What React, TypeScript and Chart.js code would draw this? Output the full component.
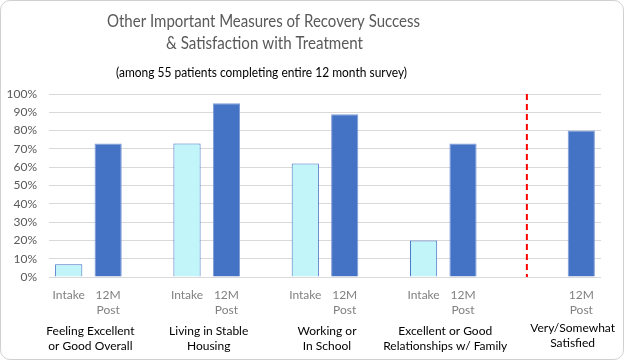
import React, { useEffect, useRef } from 'react';
import { Chart, registerables } from 'chart.js';

Chart.register(...registerables);

const titleLines = ['Other Important Measures of Recovery Success', '& Satisfaction with Treatment'];
const subtitleText = '(among 55 patients completing entire 12 month survey)';

const slotLabels: (string | string[])[] = [
  'Intake', ['12M', 'Post'], '',
  'Intake', ['12M', 'Post'], '',
  'Intake', ['12M', 'Post'], '',
  'Intake', ['12M', 'Post'], '', '',
  ['12M', 'Post'],
];

const intakeSeries = [7, null, null, 73, null, null, 62, null, null, 20, null, null, null, null];
const postSeries = [null, 73, null, null, 95, null, null, 89, null, null, 73, null, null, 80];

const groupLabels = [
  ['Feeling Excellent', 'or Good Overall'],
  ['Living in Stable', 'Housing'],
  ['Working or', 'In School'],
  ['Excellent or Good', 'Relationships w/ Family'],
  ['Very/Somewhat', 'Satisfied'],
];

const yTickValues = [0, 10, 20, 30, 40, 50, 60, 70, 80, 90, 100];

// layout constants (slot units / pixels)
const groupCenterSlots = [0.55, 3.55, 6.55, 9.55, 12.78];
const groupLabelY = [331, 331, 331, 331, 328];
const dividerSlot = 11.62;

const FONT = 'Lato, "Open Sans", sans-serif';

function slotToPx(scale: any, s: number) {
  const p0 = scale.getPixelForValue(0);
  const p1 = scale.getPixelForValue(1);
  return p0 + (p1 - p0) * s;
}

function fitText(ctx: any, text: string, x: number, y: number, maxW: number) {
  const w = ctx.measureText(text).width;
  if (w > maxW) ctx.fillText(text, x, y, maxW);
  else ctx.fillText(text, x, y);
}

const decorPlugin = {
  id: 'decor',
  afterDraw(chart: any) {
    const ctx = chart.ctx;
    const xs = chart.scales.x;
    const area = chart.chartArea;
    ctx.save();
    // titles
    ctx.textAlign = 'center';
    ctx.textBaseline = 'middle';
    ctx.fillStyle = '#595959';
    ctx.font = `16.5px ${FONT}`;
    fitText(ctx, titleLines[0], 263.5, 22, 313);
    fitText(ctx, titleLines[1], 264.5, 44, 197);
    ctx.fillStyle = '#000000';
    ctx.font = `12.5px ${FONT}`;
    fitText(ctx, subtitleText, 261.5, 73, 291);

    // divider
    const dx = slotToPx(xs, dividerSlot);
    ctx.strokeStyle = '#FF0000';
    ctx.lineWidth = 2;
    ctx.setLineDash([6, 4]);
    ctx.beginPath();
    ctx.moveTo(dx, area.top);
    ctx.lineTo(dx, area.bottom);
    ctx.stroke();
    ctx.setLineDash([]);

    // group labels
    ctx.fillStyle = '#000000';
    ctx.font = `12px ${FONT}`;
    groupLabels.forEach((lines, i) => {
      const cx = slotToPx(xs, groupCenterSlots[i]);
      lines.forEach((ln, j) => {
        ctx.fillText(ln, cx, groupLabelY[i] + j * 15);
      });
    });
    ctx.restore();
  },
};

export default function App() {
  const ref = useRef<HTMLCanvasElement | null>(null);

  useEffect(() => {
    if (!ref.current) return;
    const chart = new Chart(ref.current, {
      type: 'bar',
      data: {
        labels: slotLabels as any,
        datasets: [
          {
            label: 'Intake',
            data: intakeSeries as any,
            backgroundColor: '#C2F5FA',
            borderColor: '#4472C4',
            borderWidth: 1,
            grouped: false,
            barPercentage: 0.69,
            categoryPercentage: 1,
          } as any,
          {
            label: '12M Post',
            data: postSeries as any,
            backgroundColor: '#4472C4',
            borderColor: '#7F9BD6',
            borderWidth: 1,
            grouped: false,
            barPercentage: 0.69,
            categoryPercentage: 1,
          } as any,
        ],
      },
      options: {
        responsive: false,
        animation: false,
        layout: { padding: { top: 94, right: 24, left: 0, bottom: 0 } },
        plugins: {
          legend: { display: false },
          title: { display: false },
          tooltip: { enabled: false },
        },
        scales: {
          x: {
            type: 'category',
            offset: true,
            grid: { display: false },
            border: { display: false },
            ticks: {
              color: '#808080',
              font: { family: FONT, size: 12, lineHeight: 1.25 },
              maxRotation: 0,
              autoSkip: false,
              padding: 3,
            },
            afterFit(scale: any) {
              scale.height = 84;
            },
          },
          y: {
            min: 0,
            max: 100,
            afterBuildTicks(scale: any) {
              scale.ticks = yTickValues.map((v) => ({ value: v }));
            },
            grid: { color: '#D9D9D9', drawTicks: false, lineWidth: 1 },
            border: { display: false },
            ticks: {
              color: '#595959',
              font: { family: FONT, size: 12 },
              padding: 12,
              callback: (v: any) => `${v}%`,
            },
            afterFit(scale: any) {
              scale.width = 49;
            },
          },
        },
      },
      plugins: [decorPlugin],
    });
    return () => chart.destroy();
  }, []);

  return (
    <div style={{ position: 'absolute', left: 0, top: 0, width: 625, height: 361, background: '#fff' }}>
      <canvas ref={ref} width={625} height={361} style={{ position: 'absolute', left: 0, top: 0 }} />
      <div
        style={{
          position: 'absolute',
          left: 0,
          top: 0,
          width: 624,
          height: 360,
          boxSizing: 'border-box',
          border: '1px solid #D0D0D0',
          borderRadius: 10,
          pointerEvents: 'none',
        }}
      />
    </div>
  );
}
